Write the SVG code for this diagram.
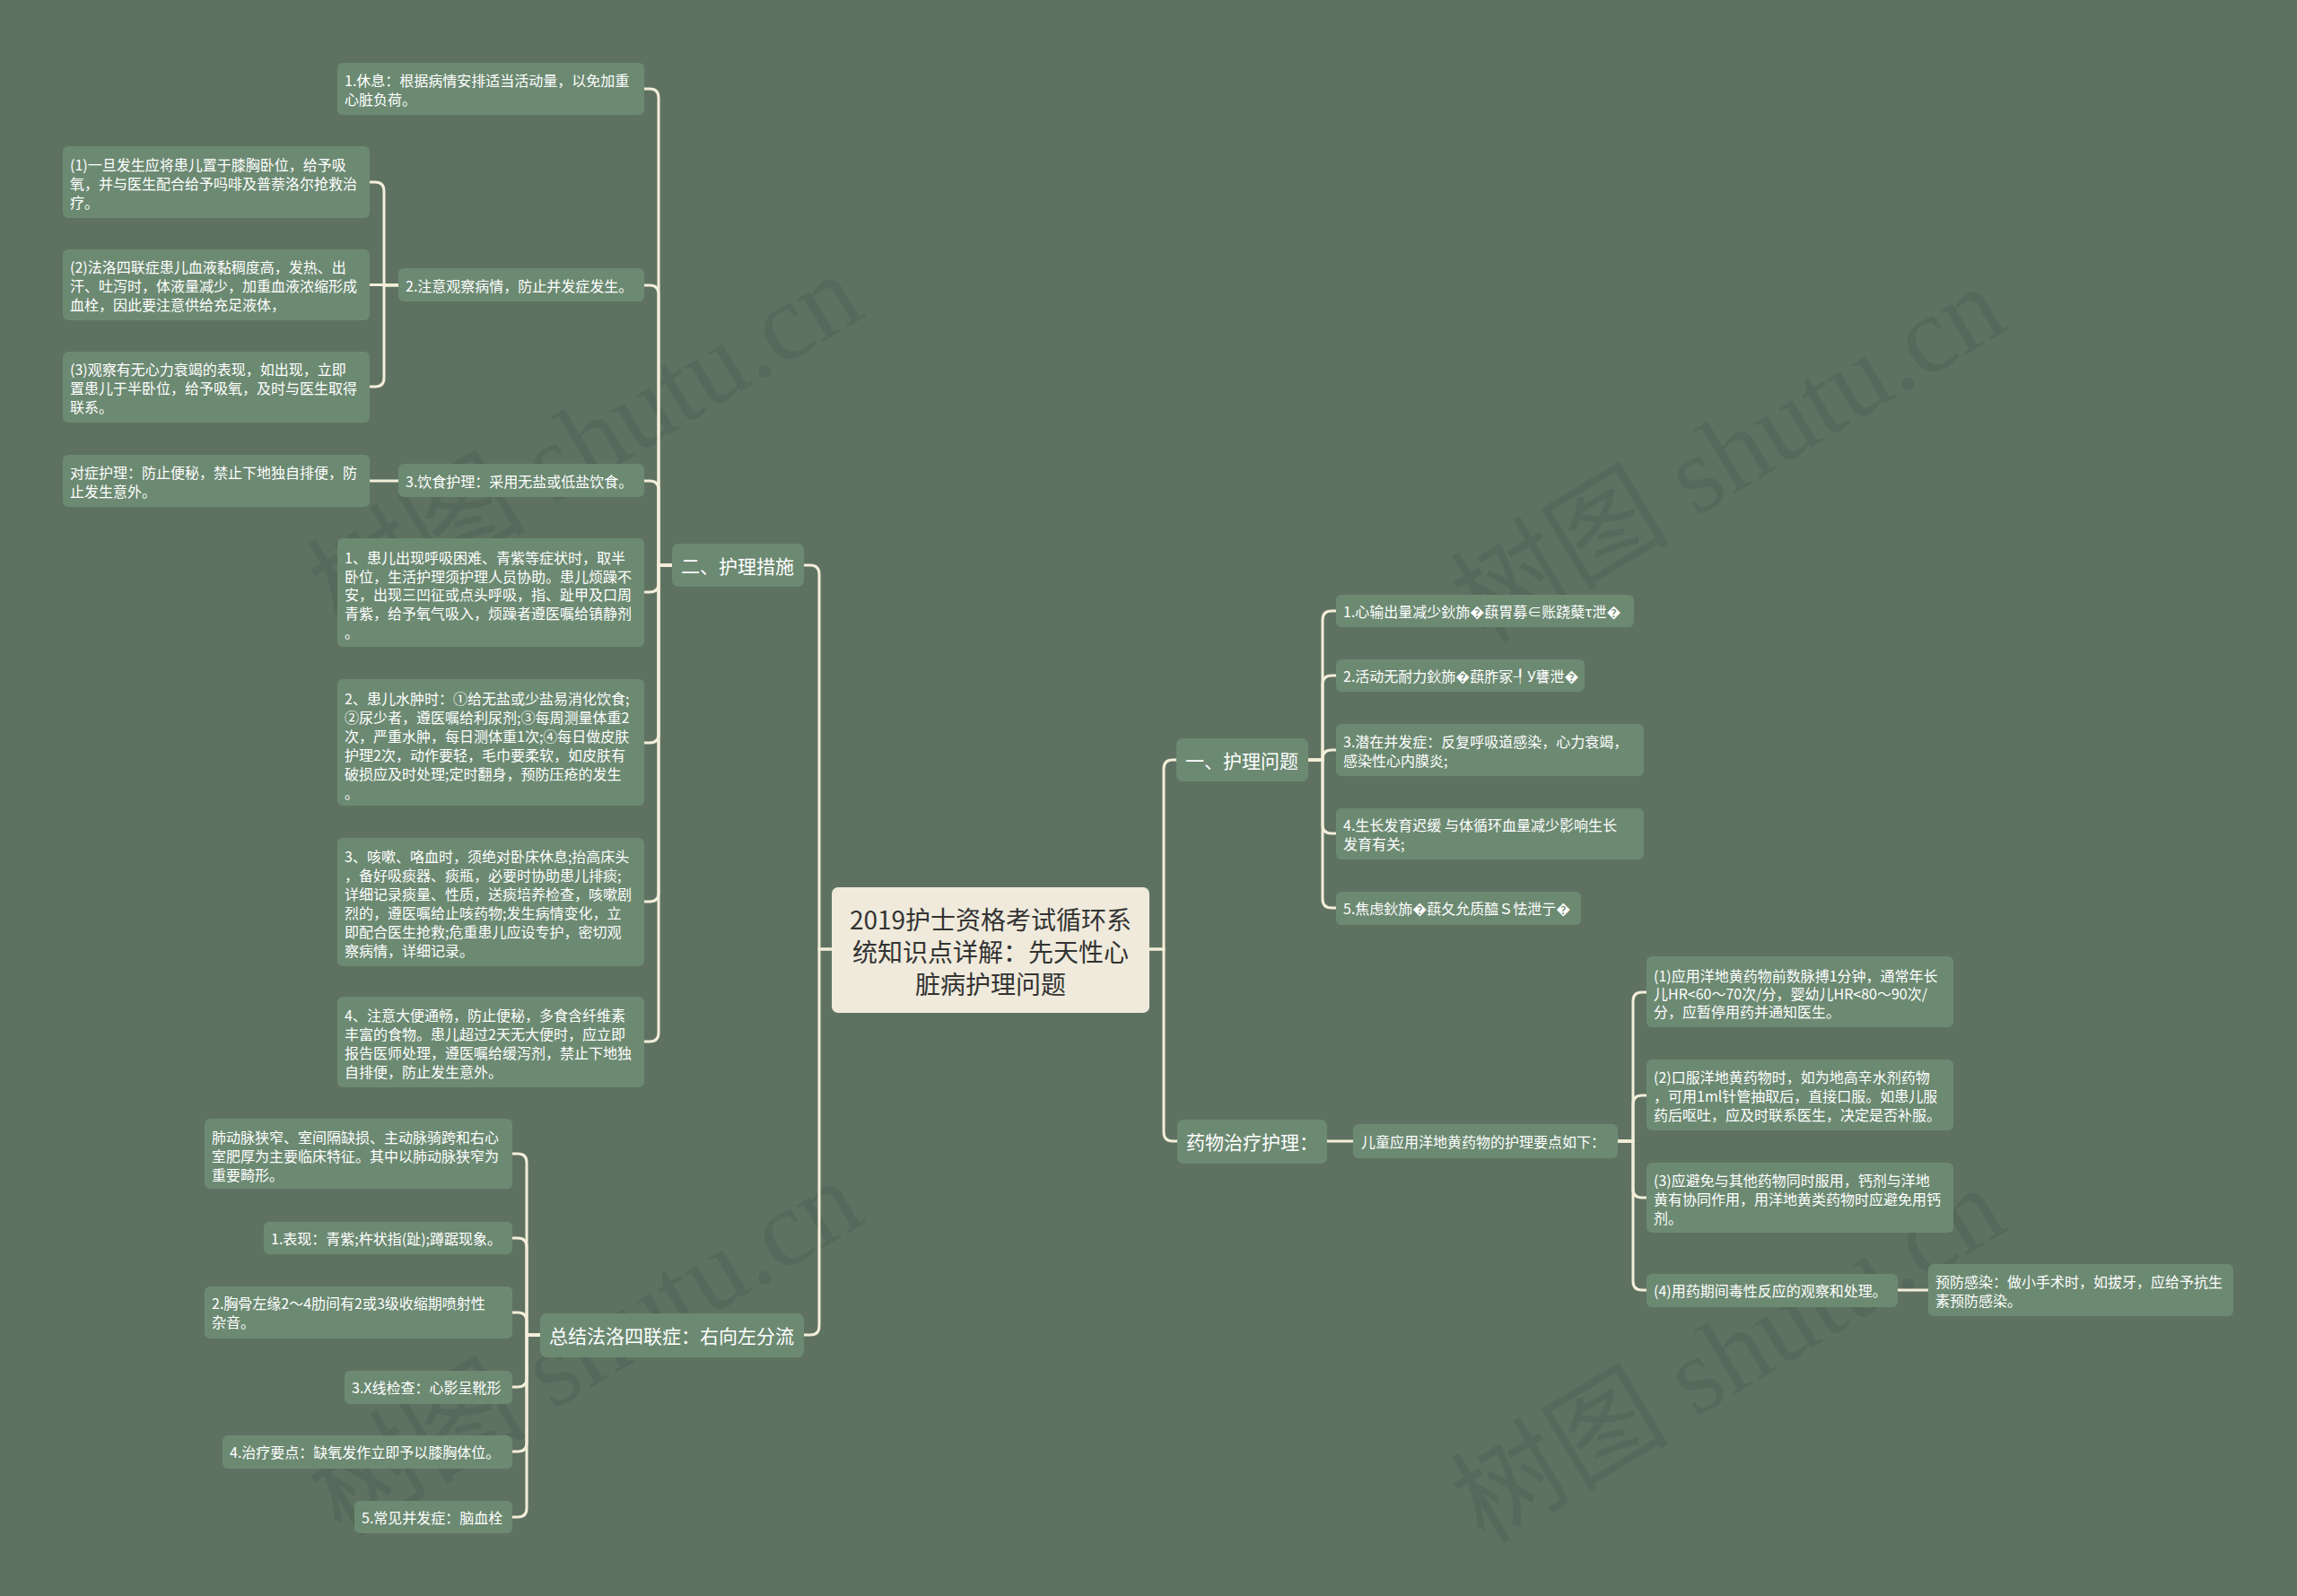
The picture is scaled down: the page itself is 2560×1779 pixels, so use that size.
<svg xmlns="http://www.w3.org/2000/svg" width="2560" height="1779" viewBox="0 0 2560 1779">
<style>
.bg{fill:#5f7262}
.wm{font-family:"Liberation Serif","Noto Sans CJK SC",serif;font-size:122px;fill:#000;fill-opacity:0.08}
.node rect{fill:#6c8a72}
.node text{fill:#ffffff;font-family:"Noto Sans CJK SC","Noto Sans",sans-serif;font-size:16px;dominant-baseline:central}
.l1 text{font-size:21px}
.root rect{fill:#efeadb}
.root text{fill:#333333;font-family:"Noto Sans CJK SC","Noto Sans",sans-serif;font-size:28px;dominant-baseline:central;text-anchor:middle}
.conn path{fill:none;stroke:#f3eed9;stroke-width:3;stroke-linecap:round}
</style>
<rect class="bg" x="0" y="0" width="2560" height="1779"/>
<g id="watermarks">
<text class="wm" transform="translate(380,704) rotate(-31)">树图 shutu.cn</text>
<text class="wm" transform="translate(1654,718) rotate(-31)">树图 shutu.cn</text>
<text class="wm" transform="translate(380,1714) rotate(-31)">树图 shutu.cn</text>
<text class="wm" transform="translate(1654,1722) rotate(-31)">树图 shutu.cn</text>
</g>
<g id="connectors" class="conn">
<path d="M927 1058 H913 V640 Q913 630 903 630 H896"/>
<path d="M927 1058 H913 V1478 Q913 1488 903 1488 H896"/>
<path d="M1281 1058 H1297 V857 Q1297 847 1307 847 H1311"/>
<path d="M1281 1058 H1297 V1262 Q1297 1272 1307 1272 H1312"/>
<path d="M749 630 H734 V109 Q734 99 724 99 H718"/>
<path d="M749 630 H734 V328 Q734 318 724 318 H718"/>
<path d="M749 630 H734 V546 Q734 536 724 536 H718"/>
<path d="M749 630 H734 V650 Q734 660 724 660 H718"/>
<path d="M749 630 H734 V818 Q734 828 724 828 H718"/>
<path d="M749 630 H734 V995 Q734 1005 724 1005 H718"/>
<path d="M749 630 H734 V1151 Q734 1161 724 1161 H718"/>
<path d="M444 318 H428 V213 Q428 203 418 203 H412"/>
<path d="M444 317.5 H412"/>
<path d="M444 318 H428 V421 Q428 431 418 431 H412"/>
<path d="M444 536 H412"/>
<path d="M602 1488 H587 V1296 Q587 1286 577 1286 H571"/>
<path d="M602 1488 H587 V1390 Q587 1380 577 1380 H571"/>
<path d="M602 1488 H587 V1473 Q587 1463 577 1463 H571"/>
<path d="M602 1488 H587 V1536 Q587 1546 577 1546 H571"/>
<path d="M602 1488 H587 V1608 Q587 1618 577 1618 H571"/>
<path d="M602 1488 H587 V1681 Q587 1691 577 1691 H571"/>
<path d="M1458 847 H1474 V691 Q1474 681 1484 681 H1489"/>
<path d="M1458 847 H1474 V763 Q1474 753 1484 753 H1489"/>
<path d="M1458 847 H1474 V846 Q1474 836 1484 836 H1489"/>
<path d="M1458 847 H1474 V919 Q1474 929 1484 929 H1489"/>
<path d="M1458 847 H1474 V1002 Q1474 1012 1484 1012 H1489"/>
<path d="M1479 1272 H1508"/>
<path d="M1803 1272 H1820 V1116 Q1820 1106 1830 1106 H1835"/>
<path d="M1803 1272 H1820 V1231 Q1820 1221 1830 1221 H1835"/>
<path d="M1803 1272 H1820 V1325 Q1820 1335 1830 1335 H1835"/>
<path d="M1803 1272 H1820 V1428 Q1820 1438 1830 1438 H1835"/>
<path d="M2115 1438 H2149"/>
</g>
<g id="root" class="root">
<rect x="927" y="989" width="354" height="140" rx="7"/>
<text x="1104" y="1024">2019护士资格考试循环系</text>
<text x="1104" y="1060">统知识点详解：先天性心</text>
<text x="1104" y="1096">脏病护理问题</text>
</g>
<g id="n-cuoshi" class="node l1">
<rect x="749" y="606" width="147" height="48" rx="7"/>
<text x="759" y="630">二、护理措施</text>
</g>
<g id="n-xiuxi" class="node">
<rect x="376" y="70" width="342" height="58" rx="6"/>
<text x="384" y="89">1.休息：根据病情安排适当活动量，以免加重</text>
<text x="384" y="110">心脏负荷。</text>
</g>
<g id="n-guancha" class="node">
<rect x="444" y="299" width="274" height="37" rx="6"/>
<text x="452" y="318">2.注意观察病情，防止并发症发生。</text>
</g>
<g id="n-guancha1" class="node">
<rect x="70" y="163" width="342" height="80" rx="6"/>
<text x="78" y="183">(1)一旦发生应将患儿置于膝胸卧位，给予吸</text>
<text x="78" y="204">氧，并与医生配合给予吗啡及普萘洛尔抢救治</text>
<text x="78" y="225">疗。</text>
</g>
<g id="n-guancha2" class="node">
<rect x="70" y="278" width="342" height="79" rx="6"/>
<text x="78" y="297">(2)法洛四联症患儿血液黏稠度高，发热、出</text>
<text x="78" y="318">汗、吐泻时，体液量减少，加重血液浓缩形成</text>
<text x="78" y="339">血栓，因此要注意供给充足液体，</text>
</g>
<g id="n-guancha3" class="node">
<rect x="70" y="392" width="342" height="79" rx="6"/>
<text x="78" y="411">(3)观察有无心力衰竭的表现，如出现，立即</text>
<text x="78" y="432">置患儿于半卧位，给予吸氧，及时与医生取得</text>
<text x="78" y="453">联系。</text>
</g>
<g id="n-yinshi" class="node">
<rect x="444" y="517" width="274" height="37" rx="6"/>
<text x="452" y="536">3.饮食护理：采用无盐或低盐饮食。</text>
</g>
<g id="n-duizheng" class="node">
<rect x="70" y="507" width="342" height="58" rx="6"/>
<text x="78" y="526">对症护理：防止便秘，禁止下地独自排便，防</text>
<text x="78" y="547">止发生意外。</text>
</g>
<g id="n-huxi" class="node">
<rect x="376" y="600" width="342" height="121" rx="6"/>
<text x="384" y="621">1、患儿出现呼吸困难、青紫等症状时，取半</text>
<text x="384" y="642">卧位，生活护理须护理人员协助。患儿烦躁不</text>
<text x="384" y="662">安，出现三凹征或点头呼吸，指、趾甲及口周</text>
<text x="384" y="683">青紫，给予氧气吸入，烦躁者遵医嘱给镇静剂</text>
<text x="384" y="704">。</text>
</g>
<g id="n-shuizhong" class="node">
<rect x="376" y="757" width="342" height="141" rx="6"/>
<text x="384" y="778">2、患儿水肿时：①给无盐或少盐易消化饮食;</text>
<text x="384" y="799">②尿少者，遵医嘱给利尿剂;③每周测量体重2</text>
<text x="384" y="820">次，严重水肿，每日测体重1次;④每日做皮肤</text>
<text x="384" y="841">护理2次，动作要轻，毛巾要柔软，如皮肤有</text>
<text x="384" y="862">破损应及时处理;定时翻身，预防压疮的发生</text>
<text x="384" y="883">。</text>
</g>
<g id="n-kesou" class="node">
<rect x="376" y="934" width="342" height="143" rx="6"/>
<text x="384" y="954">3、咳嗽、咯血时，须绝对卧床休息;抬高床头</text>
<text x="384" y="975">，备好吸痰器、痰瓶，必要时协助患儿排痰;</text>
<text x="384" y="996">详细记录痰量、性质，送痰培养检查，咳嗽剧</text>
<text x="384" y="1017">烈的，遵医嘱给止咳药物;发生病情变化，立</text>
<text x="384" y="1038">即配合医生抢救;危重患儿应设专护，密切观</text>
<text x="384" y="1059">察病情，详细记录。</text>
</g>
<g id="n-dabian" class="node">
<rect x="376" y="1111" width="342" height="101" rx="6"/>
<text x="384" y="1131">4、注意大便通畅，防止便秘，多食含纤维素</text>
<text x="384" y="1152">丰富的食物。患儿超过2天无大便时，应立即</text>
<text x="384" y="1173">报告医师处理，遵医嘱给缓泻剂，禁止下地独</text>
<text x="384" y="1194">自排便，防止发生意外。</text>
</g>
<g id="n-zongjie" class="node l1">
<rect x="602" y="1464" width="294" height="49" rx="7"/>
<text x="612" y="1488">总结法洛四联症：右向左分流</text>
</g>
<g id="n-tezheng" class="node">
<rect x="228" y="1247" width="343" height="78" rx="6"/>
<text x="236" y="1267">肺动脉狭窄、室间隔缺损、主动脉骑跨和右心</text>
<text x="236" y="1288">室肥厚为主要临床特征。其中以肺动脉狭窄为</text>
<text x="236" y="1309">重要畸形。</text>
</g>
<g id="n-biaoxian" class="node">
<rect x="294" y="1362" width="277" height="36" rx="6"/>
<text x="302" y="1380">1.表现：青紫;杵状指(趾);蹲踞现象。</text>
</g>
<g id="n-zayin" class="node">
<rect x="228" y="1434" width="343" height="58" rx="6"/>
<text x="236" y="1452">2.胸骨左缘2～4肋间有2或3级收缩期喷射性</text>
<text x="236" y="1473">杂音。</text>
</g>
<g id="n-xxian" class="node">
<rect x="384" y="1528" width="187" height="37" rx="6"/>
<text x="392" y="1546">3.X线检查：心影呈靴形</text>
</g>
<g id="n-zhiliao" class="node">
<rect x="248" y="1600" width="323" height="37" rx="6"/>
<text x="256" y="1618">4.治疗要点：缺氧发作立即予以膝胸体位。</text>
</g>
<g id="n-bingfa" class="node">
<rect x="395" y="1673" width="176" height="36" rx="6"/>
<text x="403" y="1691">5.常见并发症：脑血栓</text>
</g>
<g id="n-wenti" class="node l1">
<rect x="1311" y="823" width="147" height="48" rx="7"/>
<text x="1321" y="847">一、护理问题</text>
</g>
<g id="n-wenti1" class="node">
<rect x="1489" y="663" width="332" height="36" rx="6"/>
<text x="1497" y="681">1.心输出量减少鈥斾�蕻胃募∈账跷蘖τ泄�</text>
</g>
<g id="n-wenti2" class="node">
<rect x="1489" y="735" width="277" height="36" rx="6"/>
<text x="1497" y="753">2.活动无耐力鈥斾�蕻胙冢┦У饔泄�</text>
</g>
<g id="n-wenti3" class="node">
<rect x="1489" y="807" width="343" height="58" rx="6"/>
<text x="1497" y="826">3.潜在并发症：反复呼吸道感染，心力衰竭，</text>
<text x="1497" y="847">感染性心内膜炎;</text>
</g>
<g id="n-wenti4" class="node">
<rect x="1489" y="901" width="343" height="57" rx="6"/>
<text x="1497" y="919">4.生长发育迟缓 与体循环血量减少影响生长</text>
<text x="1497" y="940">发育有关;</text>
</g>
<g id="n-wenti5" class="node">
<rect x="1489" y="994" width="273" height="37" rx="6"/>
<text x="1497" y="1012">5.焦虑鈥斾�蕻夂允质醯Ｓ怯泄亍�</text>
</g>
<g id="n-yaowu" class="node l1">
<rect x="1312" y="1248" width="167" height="49" rx="7"/>
<text x="1322" y="1272">药物治疗护理：</text>
</g>
<g id="n-ertong" class="node">
<rect x="1508" y="1253" width="295" height="38" rx="6"/>
<text x="1517" y="1272">儿童应用洋地黄药物的护理要点如下：</text>
</g>
<g id="n-yao1" class="node">
<rect x="1835" y="1066" width="342" height="79" rx="6"/>
<text x="1843" y="1087">(1)应用洋地黄药物前数脉搏1分钟，通常年长</text>
<text x="1843" y="1107">儿HR&lt;60～70次/分，婴幼儿HR&lt;80～90次/</text>
<text x="1843" y="1127">分，应暂停用药并通知医生。</text>
</g>
<g id="n-yao2" class="node">
<rect x="1835" y="1181" width="342" height="79" rx="6"/>
<text x="1843" y="1200">(2)口服洋地黄药物时，如为地高辛水剂药物</text>
<text x="1843" y="1221">，可用1ml针管抽取后，直接口服。如患儿服</text>
<text x="1843" y="1242">药后呕吐，应及时联系医生，决定是否补服。</text>
</g>
<g id="n-yao3" class="node">
<rect x="1835" y="1296" width="342" height="78" rx="6"/>
<text x="1843" y="1315">(3)应避免与其他药物同时服用，钙剂与洋地</text>
<text x="1843" y="1336">黄有协同作用，用洋地黄类药物时应避免用钙</text>
<text x="1843" y="1357">剂。</text>
</g>
<g id="n-yao4" class="node">
<rect x="1835" y="1420" width="280" height="37" rx="6"/>
<text x="1843" y="1438">(4)用药期间毒性反应的观察和处理。</text>
</g>
<g id="n-yufang" class="node">
<rect x="2149" y="1409" width="340" height="58" rx="6"/>
<text x="2157" y="1428">预防感染：做小手术时，如拔牙，应给予抗生</text>
<text x="2157" y="1449">素预防感染。</text>
</g>
</svg>
